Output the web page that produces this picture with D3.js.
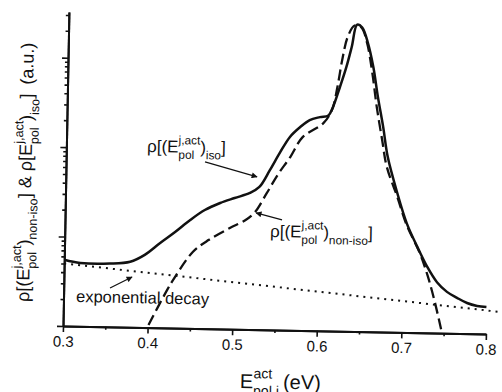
<!DOCTYPE html>
<html>
<head>
<meta charset="utf-8">
<script src="https://cdn.jsdelivr.net/npm/d3@7"></script>
<style>
  body { margin: 0; background: #fff; }
  svg { display: block; }
  text { font-family: "Liberation Sans", Arial, sans-serif; fill: #111; }
</style>
</head>
<body>
<div id="chart"></div>
<script>
// values: energy in eV, density in a.u. (log axis)
const isoE   = [0.300, 0.319, 0.354, 0.378, 0.395, 0.413, 0.430, 0.448, 0.465, 0.483, 0.500, 0.518, 0.529, 0.541, 0.553, 0.564, 0.576, 0.587, 0.599, 0.609, 0.614, 0.622, 0.629, 0.635, 0.641, 0.647, 0.654, 0.661, 0.667, 0.674, 0.680, 0.692, 0.704, 0.717, 0.729, 0.741, 0.753, 0.765, 0.777, 0.789, 0.800];
const isoRho = [5.5, 5.1, 5.1, 5.4, 6.5, 8.9, 11.8, 16.3, 21.2, 25.6, 29.3, 33.6, 39.4, 61, 98, 145, 188, 226, 245, 257, 316, 537, 891, 1514, 2692, 2512, 1698, 912, 427, 195, 91, 36.3, 16.6, 9.1, 5.5, 3.7, 2.9, 2.5, 2.2, 2.05, 2.0];

const nonIsoE   = [0.401, 0.422, 0.431, 0.452, 0.470, 0.495, 0.513, 0.524, 0.538, 0.550, 0.565, 0.579, 0.603, 0.613, 0.619, 0.624, 0.630, 0.638, 0.646, 0.653, 0.660, 0.666, 0.673, 0.679, 0.692, 0.704, 0.720, 0.730, 0.739, 0.748];
const nonIsoRho = [1.07, 2.63, 3.7, 7.2, 9.8, 13.5, 16.6, 20.4, 33.9, 53.7, 87, 145, 209, 295, 537, 1072, 1950, 2630, 2512, 1698, 776, 324, 141, 71, 33, 15.8, 7.8, 4.3, 2.2, 1.0];

const decayE   = [0.300, 0.530, 0.815];
const decayRho = [5.0, 3.16, 1.78];

const xTicks = [0.3, 0.4, 0.5, 0.6, 0.7, 0.8];
const xTickLabels = ["0.3", "0.4", "0.5", "0.6", "0.7", "0.8"];
const xMinorTicks = [0.35, 0.45, 0.55, 0.65, 0.75];
const yMajorTicks = [1, 10, 100, 1000];
const yMinorTicks = [2, 3, 4, 5, 6, 7, 8, 9, 20, 30, 40, 50, 60, 70, 80, 90,
                     200, 300, 400, 500, 600, 700, 800, 900, 2000, 3000];

var w = 502, h = 392;
var x0 = 63, y0 = 326;   // origin of the axes

var svg = d3.select("#chart").append("svg")
    .attr("width", w)
    .attr("height", h);

svg.append("defs").append("marker")
    .attr("id", "arrow")
    .attr("viewBox", "0 0 10 10")
    .attr("refX", 9).attr("refY", 5)
    .attr("markerWidth", 8).attr("markerHeight", 6)
    .attr("markerUnits", "userSpaceOnUse")
    .attr("orient", "auto")
    .append("path")
    .attr("d", "M0,0 L10,5 L0,10 z")
    .attr("fill", "#111");

// the scan sits about one degree clockwise, so the whole figure is turned
var g = svg.append("g").attr("transform", `rotate(1.08, ${x0}, ${y0})`);

var x = d3.scaleLinear().domain([0.3, 0.8]).range([x0, 486]);
var y = d3.scaleLog().domain([1, 3240]).range([y0, 12]);

// axes
var xAxis = g.append("g")
    .attr("transform", `translate(0, ${y0})`)
    .call(d3.axisBottom(x)
        .tickValues(xTicks)
        .tickFormat((d, i) => xTickLabels[i])
        .tickSize(6)
        .tickSizeOuter(0)
        .tickPadding(4));
xAxis.selectAll("text")
    .style("font-size", "15px")
    .style("font-family", "Liberation Sans, Arial, sans-serif")
    .attr("fill", "#111");

g.append("g")
    .attr("transform", `translate(0, ${y0})`)
    .call(d3.axisBottom(x).tickValues(xMinorTicks).tickFormat("").tickSize(3).tickSizeOuter(0));

g.append("g")
    .attr("transform", `translate(${x0}, 0)`)
    .call(d3.axisLeft(y).tickValues(yMajorTicks).tickFormat("").tickSize(6).tickSizeOuter(0));

g.append("g")
    .attr("transform", `translate(${x0}, 0)`)
    .call(d3.axisLeft(y).tickValues(yMinorTicks).tickFormat("").tickSize(3).tickSizeOuter(0));

g.selectAll(".domain").attr("stroke", "#111").attr("stroke-width", 2);
g.selectAll(".tick line").attr("stroke", "#111").attr("stroke-width", 1.6);

// curves
var line = d3.line()
    .x(d => x(d[0]))
    .y(d => y(d[1]))
    .curve(d3.curveCatmullRom.alpha(0.5));

g.append("path")
    .datum(decayE.map((e, i) => [e, decayRho[i]]))
    .attr("fill", "none")
    .attr("stroke", "#111")
    .attr("stroke-width", 2)
    .attr("stroke-dasharray", "2,5")
    .attr("d", d3.line().x(d => x(d[0])).y(d => y(d[1])));

g.append("path")
    .datum(nonIsoE.map((e, i) => [e, nonIsoRho[i]]))
    .attr("fill", "none")
    .attr("stroke", "#111")
    .attr("stroke-width", 2.3)
    .attr("stroke-dasharray", "11,5")
    .attr("d", line);

g.append("path")
    .datum(isoE.map((e, i) => [e, isoRho[i]]))
    .attr("fill", "none")
    .attr("stroke", "#111")
    .attr("stroke-width", 2.5)
    .attr("d", line);

// text with stacked super/subscripts, laid out piece by piece
function richText(parent, tx, ty, parts, fs, rot) {
    var t = parent.append("g")
        .attr("transform", `translate(${tx}, ${ty})` + (rot ? ` rotate(${rot})` : ""));
    var small = fs * 0.7;
    var cx = 0;
    parts.forEach(p => {
        if (p.gap) { cx += p.gap; return; }
        if (p.t) {
            var el = t.append("text").attr("x", cx).attr("y", 0)
                .style("font-size", fs + "px").text(p.t);
            cx += el.node().getComputedTextLength();
            return;
        }
        var wmax = 0;
        if (p.sup) {
            var s = t.append("text").attr("x", cx).attr("y", -fs * 0.5)
                .style("font-size", small + "px").text(p.sup);
            wmax = Math.max(wmax, s.node().getComputedTextLength());
        }
        if (p.sub) {
            var b = t.append("text").attr("x", cx).attr("y", fs * 0.36)
                .style("font-size", small + "px").text(p.sub);
            wmax = Math.max(wmax, b.node().getComputedTextLength());
        }
        cx += wmax;
    });
    return t;
}

// axis titles
richText(g, 28.5, 302.6, [
    { t: "ρ[(E" }, { sup: "j,act", sub: "pol" }, { t: ")" }, { sub: "non-iso" },
    { t: "] & ρ[E" }, { sup: "j,act", sub: "pol" }, { t: ")" }, { sub: "iso" },
    { t: "]" }, { gap: 9 }, { t: "(a.u.)" }
], 18, -90);

richText(g, 241, 384.6, [
    { t: "E" }, { sup: "act", sub: "pol,j" }, { gap: 4 }, { t: "(eV)" }
], 20);

// annotations
richText(g, 143.7, 150.4, [
    { t: "ρ[(E" }, { sup: "j,act", sub: "pol" }, { t: ")" }, { sub: "iso" }, { t: "]" }
], 17);

richText(g, 268.3, 233.1, [
    { t: "ρ[(E" }, { sup: "j,act", sub: "pol" }, { t: ")" }, { sub: "non-iso" }, { t: "]" }
], 17);

g.append("text")
    .attr("x", 75.5).attr("y", 301.8)
    .style("font-size", "16.5px")
    .text("exponential decay");

var arrows = [
    [201.9, 159.3, 254.2, 173.3],
    [280.0, 215.8, 253.9, 209.3],
    [109.3, 287.1, 131.1, 275.7]
];
g.selectAll(".arrow")
    .data(arrows)
    .join("line")
    .attr("class", "arrow")
    .attr("x1", d => d[0]).attr("y1", d => d[1])
    .attr("x2", d => d[2]).attr("y2", d => d[3])
    .attr("stroke", "#111")
    .attr("stroke-width", 1.2)
    .attr("marker-end", "url(#arrow)");
</script>
</body>
</html>
